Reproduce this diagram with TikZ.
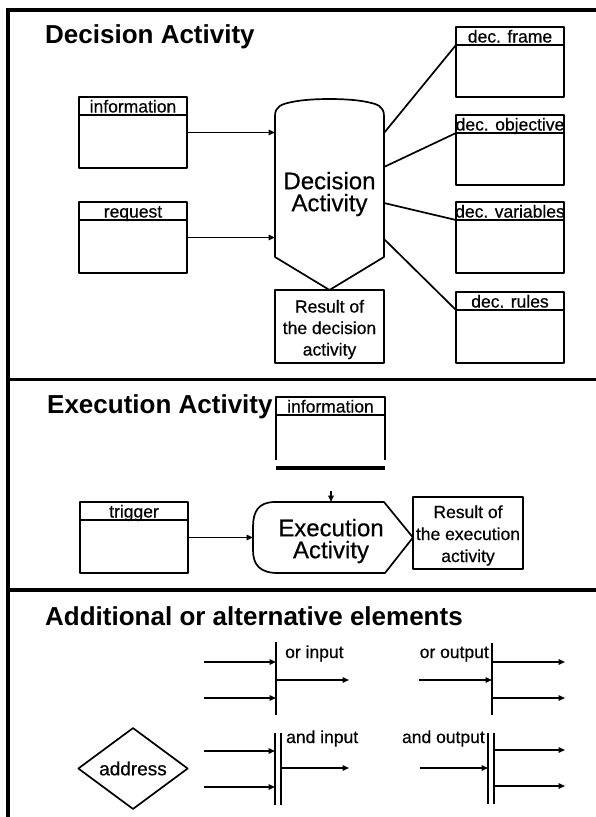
\documentclass[tikz,border=0pt]{standalone}
\usepackage{fontspec}
\setmainfont{Liberation Sans}
\usetikzlibrary{arrows.meta,calc,shapes.geometric}

% box with a title strip: name, left, top, width, height, title
\newcommand\headbox[6]{%
  \node[databox, minimum width=#4, minimum height=#5] (#1) at (#2,#3) {};
  \draw[outline] ($(#1.north west)+(0,18)$) coordinate (#1-hw)
    -- ($(#1.north east)+(0,18)$) coordinate (#1-he);
  \node[lbl, anchor=base] (#1-t) at ($(#1.north)+(0,15.5)$) {#6};
}
% slightly heavier regular weight for the printed labels
\newcommand\inkier{\addfontfeature{FakeBold=0.5}}

\begin{document}
\begin{tikzpicture}[x=1pt,y=-1pt,
  frameline/.style={line width=3.4pt},
  outline/.style={line width=1.7pt, line join=round},
  plain/.style={line width=1.7pt},
  flow/.style={line width=1.5pt, -{Triangle[length=6.5pt,width=5.5pt]}},
  heavyflow/.style={flow, line width=2.1pt},
  sect/.style={font=\fontsize{26}{28}\selectfont\bfseries, anchor=base west, inner sep=0pt},
  lbl/.style={font=\fontsize{17.5}{20}\selectfont\inkier, inner sep=0pt},
  multi/.style={font=\fontsize{17.5}{21.5}\selectfont\inkier, align=center, inner sep=0pt},
  big/.style={font=\fontsize{24}{22}\selectfont\inkier, align=center, inner sep=0pt},
  databox/.style={outline, draw, rectangle, inner sep=0pt, outer sep=0pt, anchor=north west},
  ghost/.style={rectangle, inner sep=0pt, outer sep=0pt},
]
\useasboundingbox (0,0) rectangle (596,817);

% ---------- frame and section rules ----------
\draw[frameline] (8,817) -- (8,10) -- (596,10);
\draw[frameline] (8,379.5) -- (596,379.5);
\draw[frameline] (8,590) -- (596,590);

% ---------- decision activity ----------
\node[sect] (t1) at (45,43) {Decision Activity};

\headbox{info}{79}{97}{108pt}{71pt}{information}
\headbox{req}{79}{202}{108pt}{71pt}{request}

\node[ghost, big, minimum width=109pt, minimum height=192pt] (dec) at (329.5,194) {Decision\\Activity};
\draw[outline] (275,257) -- (275,116)
  .. controls (275,106) and (282,104) .. (292,102)
  .. controls (310,98) and (349,98) .. (367,102)
  .. controls (377,104) and (384,106) .. (384,116)
  -- (384,257) -- (329.5,290) -- cycle;

\draw[flow] (info.east) -- (info.east -| dec.west);
\draw[flow] (req.east) -- (req.east -| dec.west);

\node[databox, minimum width=109pt, minimum height=73pt] (res1) at (275,290) {};
\node[multi] (res1-t) at ($(res1.center)+(0,3)$) {Result of\\the decision\\activity};

\headbox{frm}{456}{27}{108pt}{70pt}{dec. frame}
\headbox{obj}{456}{115}{108pt}{70pt}{dec. objective}
\headbox{var}{456}{202}{108pt}{71pt}{dec. variables}
\headbox{rul}{456}{292}{108pt}{71pt}{dec. rules}

\coordinate (dr1) at (384,133);
\coordinate (dr2) at (384,167);
\coordinate (dr3) at (384,203);
\coordinate (dr4) at (384,239);
\draw[plain] (dr1) -- (frm-hw);
\draw[plain] (dr2) -- (obj-hw);
\draw[plain] (dr3) -- (var-hw);
\draw[plain] (dr4) -- (rul-hw);

% ---------- execution activity ----------
\node[sect] (t2) at (47,413) {Execution Activity};

\node[ghost, minimum width=109pt, minimum height=63pt, anchor=north west] (einf) at (276,397) {};
\draw[outline] (einf.south west) -- (einf.north west) -- (einf.north east) -- (einf.south east);
\draw[outline] ($(einf.north west)+(0,18)$) -- ($(einf.north east)+(0,18)$);
\node[lbl, anchor=base] (einf-t) at ($(einf.north)+(0,15.5)$) {information};
\draw[line width=3.2pt] ($(einf.south west)+(0,8)$) coordinate (ebar-l) -- ($(einf.south east)+(0,8)$) coordinate (ebar-r);

\headbox{trg}{80}{502}{108pt}{71pt}{trigger}

\node[ghost, minimum width=160pt, minimum height=71pt] (exe) at (333,537.5) {};
\draw[outline] (384,502) -- (413,537.5) -- (385,573) -- (278,573)
  .. controls (260,573) and (253,565) .. (253,550) -- (253,527)
  .. controls (253,512) and (258,502) .. (275,502) -- cycle;
\node[big] (exe-t) at (331,541) {Execution\\Activity};

\coordinate (eup) at ($(exe.north)+(-2,-11)$);
\draw[flow] (eup) -- (eup |- exe.north);
\draw[flow] (trg.east) -- (trg.east -| exe.west);

\node[databox, minimum width=110pt, minimum height=72pt] (res2) at (413,497) {};
\node[multi, font=\fontsize{17.5}{22}\selectfont\inkier] (res2-t) at ($(res2.center)+(0,2.5)$) {Result of\\the execution\\activity};

% ---------- additional or alternative elements ----------
\node[sect] (t3) at (45,625) {Additional or alternative elements};

% or input
\coordinate (oi-top) at (276,642);
\coordinate (oi-bot) at (276,715);
\draw[plain] (oi-top) -- (oi-bot);
\coordinate (oi-a) at (204,662);
\coordinate (oi-b) at (204,698);
\coordinate (oi-o) at (349,680);
\draw[heavyflow] (oi-a) -- (oi-a -| oi-top);
\draw[flow] (oi-b) -- (oi-b -| oi-top);
\draw[flow] (oi-o -| oi-top) -- (oi-o);
\node[lbl, anchor=base west] (oi-t) at (285,658) {or input};

% or output
\coordinate (oo-top) at (492,643);
\coordinate (oo-bot) at (492,715);
\draw[plain] (oo-top) -- (oo-bot);
\coordinate (oo-i) at (419,680);
\coordinate (oo-a) at (565,662);
\coordinate (oo-b) at (565,698);
\draw[flow] (oo-i) -- (oo-i -| oo-top);
\draw[heavyflow] (oo-a -| oo-top) -- (oo-a);
\draw[flow] (oo-b -| oo-top) -- (oo-b);
\node[lbl, anchor=base east] (oo-t) at (489,658) {or output};

% and input
\coordinate (ai-top) at (275,733);
\coordinate (ai-bot) at (275,805);
\coordinate (ai-top2) at (281,733);
\coordinate (ai-bot2) at (281,805);
\draw[plain] (ai-top) -- (ai-bot);
\draw[plain] (ai-top2) -- (ai-bot2);
\coordinate (ai-a) at (204,751);
\coordinate (ai-b) at (204,787);
\coordinate (ai-o) at (349,768);
\draw[flow] (ai-a) -- (ai-a -| ai-top);
\draw[flow] (ai-b) -- (ai-b -| ai-top);
\draw[flow] (ai-o -| ai-top2) -- (ai-o);
\node[lbl, anchor=base west] (ai-t) at (286,743) {and input};

% and output
\coordinate (ao-top) at (488,733);
\coordinate (ao-bot) at (488,804);
\coordinate (ao-top2) at (494,733);
\coordinate (ao-bot2) at (494,804);
\draw[plain] (ao-top) -- (ao-bot);
\draw[plain] (ao-top2) -- (ao-bot2);
\coordinate (ao-i) at (420,768);
\coordinate (ao-a) at (565,750);
\coordinate (ao-b) at (565,786);
\draw[flow] (ao-i) -- (ao-i -| ao-top);
\draw[flow] (ao-a -| ao-top2) -- (ao-a);
\draw[flow] (ao-b -| ao-top2) -- (ao-b);
\node[lbl, anchor=base east] (ao-t) at (485,743) {and output};

% address
\node[diamond, draw, outline, inner sep=0pt, minimum width=110pt, minimum height=71pt,
  font=\fontsize{19}{21}\selectfont\inkier] (addr) at (133,768.5) {address};

\end{tikzpicture}
\end{document}
